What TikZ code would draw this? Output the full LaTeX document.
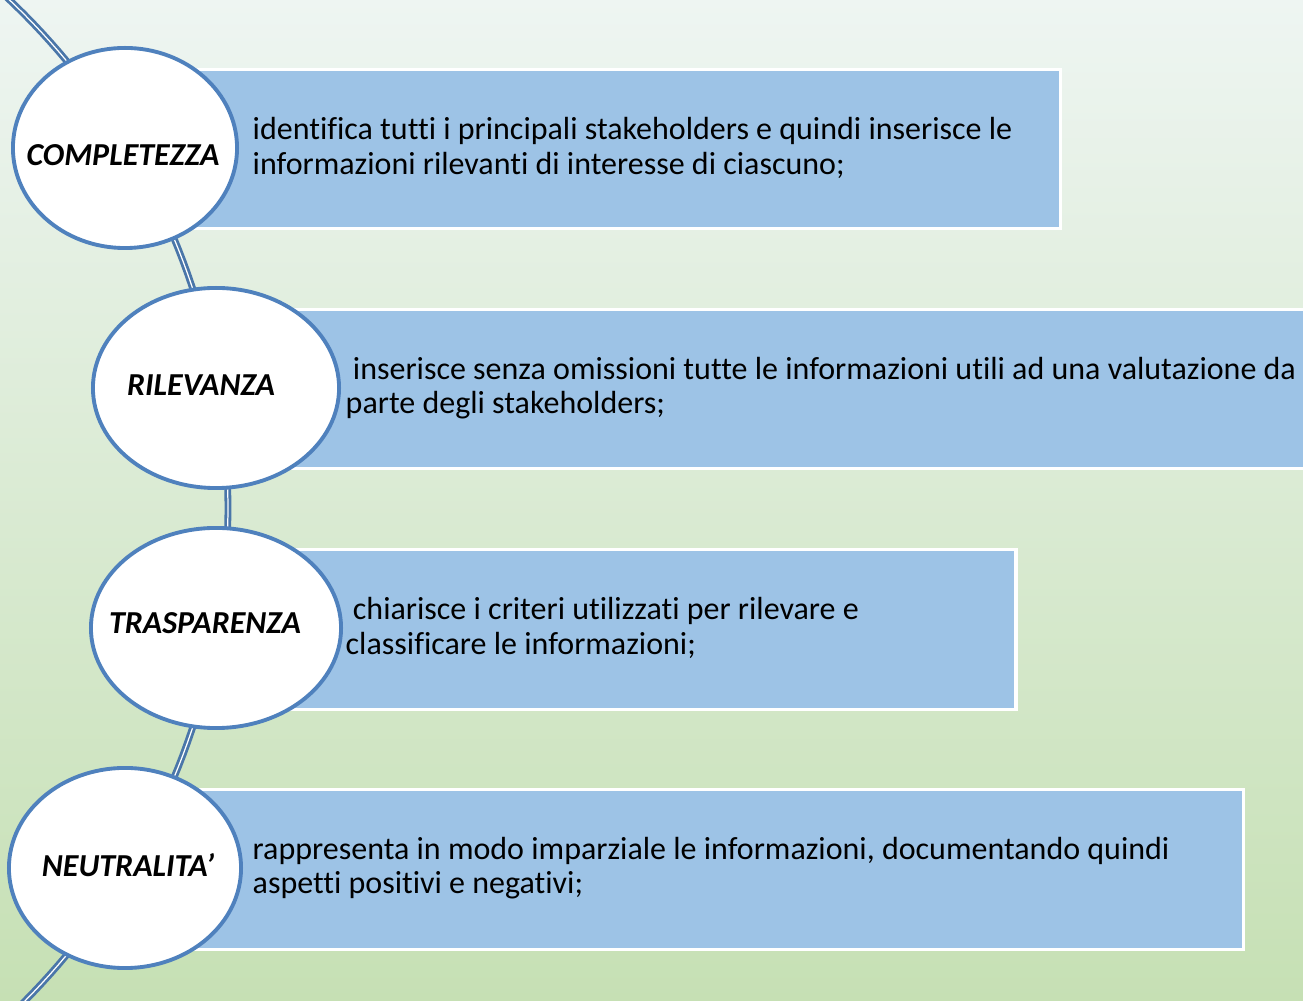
\documentclass[tikz,border=0pt]{standalone}
\usepackage{fontspec}
\setmainfont{Carlito}[Ligatures=CommonOff]
\usepackage{tikz}
\usetikzlibrary{shapes.geometric}
\definecolor{bgtop}{HTML}{EEF5F2}
\definecolor{bgbot}{HTML}{C6E0B4}
\definecolor{barblue}{HTML}{9DC3E6}
\definecolor{ringblue}{HTML}{4F81BD}
\definecolor{spineblue}{HTML}{4A76A9}
\newcommand{\Tag}[1]{{\bfseries\itshape #1}}

\begin{document}
\begin{tikzpicture}[x=0.01cm, y=-0.01cm,
    bar/.style={fill=barblue, draw=white, line width=0.9pt, anchor=north west, inner sep=0pt},
    bubble/.style={ellipse, fill=white, draw=ringblue, line width=1.1pt, minimum height=2cm, inner sep=0pt},
    tag/.style={font=\fontsize{9.1}{9.7}\selectfont, inner sep=0pt},
    txt/.style={font=\fontsize{9.1}{9.7}\selectfont, align=left, anchor=west, inner sep=0pt},
    spine/.style={draw=spineblue, double=white, line width=0.8pt, double distance=0.35pt}]

    \clip (0,0) rectangle (1303,1001);
    \fill[top color=bgtop, bottom color=bgbot] (0,0) rectangle (1303,1001);
    \draw[spine] plot[domain=-47:47, samples=90] ({-472+700*cos(\x)}, {508+700*sin(\x)});

    \draw(125,68) node[bar, minimum width=9.33cm, minimum height=1.59cm] (B1) {};
    \draw(216,308) node[bar, minimum width=11.2cm, minimum height=1.59cm] (B2) {};
    \draw(216,548) node[bar, minimum width=7.98cm, minimum height=1.6cm] (B3) {};
    \draw(125,788) node[bar, minimum width=11.16cm, minimum height=1.6cm] (B4) {};

    \draw(125,148) node[bubble, minimum width=2.24cm] (C1) {};
    \draw(216,388) node[bubble, minimum width=2.46cm] (C2) {};
    \draw(216,628) node[bubble, minimum width=2.5cm] (C3) {};
    \draw(125,868) node[bubble, minimum width=2.32cm] (C4) {};

    \draw(123,155) node[tag] (L1) {\Tag{COMPLETEZZA}};
    \draw(201,385) node[tag] (L2) {\Tag{RILEVANZA}};
    \draw(205,623) node[tag] (L3) {\Tag{TRASPARENZA}};
    \draw(128,865) node[tag] (L4) {\Tag{NEUTRALITA’}};

    \draw(252,148) node[txt] (T1) {identifica tutti i principali stakeholders e quindi inserisce le\\informazioni rilevanti di interesse di ciascuno;};
    \draw(345,388) node[txt] (T2) {~inserisce senza omissioni tutte le informazioni utili ad una valutazione da\\parte degli stakeholders;};
    \draw(345,628) node[txt] (T3) {~chiarisce i criteri utilizzati per rilevare e\\classificare le informazioni;};
    \draw(252,868) node[txt] (T4) {rappresenta in modo imparziale le informazioni, documentando quindi\\aspetti positivi e negativi;};

\end{tikzpicture}
\end{document}
